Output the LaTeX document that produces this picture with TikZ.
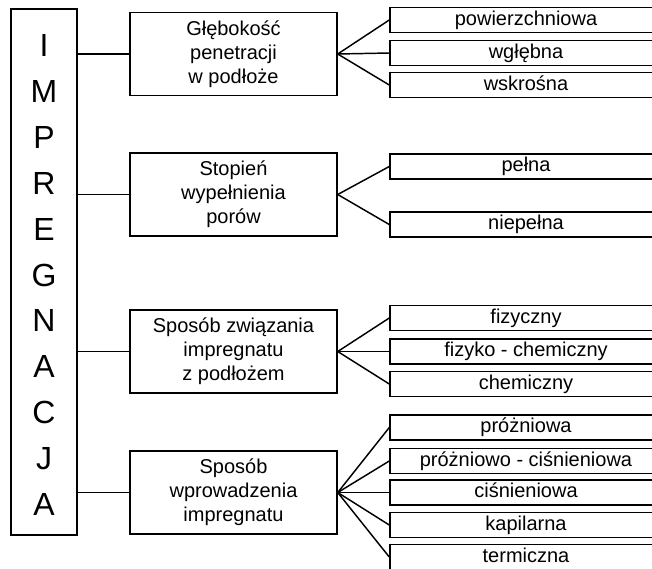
\documentclass[tikz,border=0pt]{standalone}
\usepackage{fontspec}
\setmainfont{Liberation Sans}
\usetikzlibrary{positioning}

\begin{document}
\begin{tikzpicture}[x=0.75pt, y=-0.75pt,
    every node/.style={text=black, font=\fontsize{15}{18}\selectfont},
    mainbox/.style={draw, line width=1.1pt, minimum width=49.5pt, minimum height=394.5pt},
    groupbox/.style={draw, line width=1.1pt, minimum width=155.25pt, minimum height=62.25pt, align=center},
    leafbox/.style={draw, line width=1.1pt, minimum width=204pt, minimum height=18.75pt,
      inner sep=0pt, text height=11pt, text depth=3.5pt},
    letter/.style={font=\fontsize{24}{24}\selectfont, anchor=base, inner sep=0pt},
    link/.style={line width=1.1pt},
    ]

\useasboundingbox (0,0) rectangle (652,568);
\clip (0,0) rectangle (652,568);

% the word written downwards
\node[mainbox] (impr) at (44,272) {};
\foreach \l [count=\i] in {I,M,P,R,E,G,N,A,C,J,A}
  \node[letter] (l\i) at (44, {56.5+45.9*(\i-1)}) {\l};

% groups
\node[groupbox] (depth) at (233.5,54) {Głębokość\\penetracji\\w podłoże};
\node[groupbox] (fill) at (233.5,194.5) {Stopień\\wypełnienia\\porów};
\node[groupbox] (bond) at (233.5,351.5) {Sposób związania\\impregnatu\\z podłożem};
\node[groupbox] (intro) at (233.5,492.5) {Sposób\\wprowadzenia\\impregnatu};

\foreach \g in {depth,fill,bond,intro}
  \draw[link] (\g.west -| impr.east) -- (\g.west);

% leaves (cut off by the right edge)
\foreach \y/\t [count=\i] in {20/powierzchniowa, 53/wgłębna, 85/wskrośna} {
  \node[leafbox] (depth\i) at (526,\y) {\t};
  \draw[link] (depth.east) -- (depth\i.west);
}
\foreach \y/\t [count=\i] in {166.5/pełna, 224.5/niepełna} {
  \node[leafbox] (fill\i) at (526,\y) {\t};
  \draw[link] (fill.east) -- (fill\i.west);
}
\foreach \y/\t [count=\i] in {318/fizyczny, 351.5/fizyko - chemiczny, 384/chemiczny} {
  \node[leafbox] (bond\i) at (526,\y) {\t};
  \draw[link] (bond.east) -- (bond\i.west);
}
\foreach \y/\t [count=\i] in {427.5/próżniowa, 461/próżniowo - ciśnieniowa, 492.5/ciśnieniowa,
    525/kapilarna, 557/termiczna} {
  \node[leafbox] (intro\i) at (526,\y) {\t};
  \draw[link] (intro.east) -- (intro\i.west);
}

\end{tikzpicture}
\end{document}
